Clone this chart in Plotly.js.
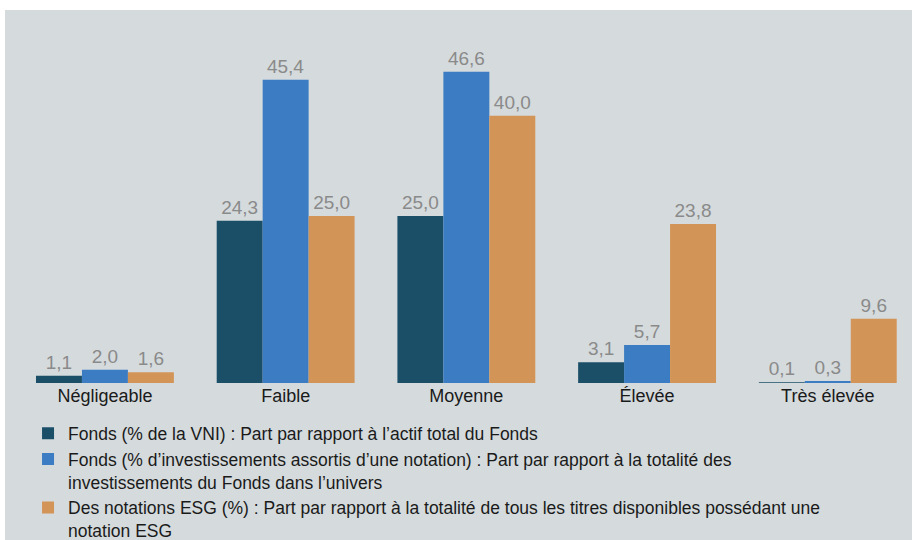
<!DOCTYPE html>
<html>
<head>
<meta charset="utf-8">
<script src="https://cdn.plot.ly/plotly-3.0.1.min.js"></script>
<style>
  html, body { margin: 0; padding: 0; background: #ffffff; overflow: hidden; }
  #chart { position: absolute; left: 5px; top: 10px; width: 907px; height: 530px; }
</style>
</head>
<body>
<div id="chart"></div>
<script>
const categories = ["Négligeable", "Faible", "Moyenne", "Élevée", "Très élevée"];
const fondsVNI = [1.1, 24.3, 25.0, 3.1, 0.1];
const fondsNotation = [2.0, 45.4, 46.6, 5.7, 0.3];
const notationsESG = [1.6, 25.0, 40.0, 23.8, 9.6];
const seriesNames = [
  "Fonds (% de la VNI) : Part par rapport à l’actif total du Fonds",
  "Fonds (% d’investissements assortis d’une notation) : Part par rapport à la totalité des<br>investissements du Fonds dans l’univers",
  "Des notations ESG (%) : Part par rapport à la totalité de tous les titres disponibles possédant une<br>notation ESG"
];
const seriesColors = ["#1b4f68", "#3b7cc2", "#d39457"];
const seriesValues = [fondsVNI, fondsNotation, notationsESG];

const FONT = "Liberation Sans, Arial, Helvetica, sans-serif";

const traces = seriesValues.map((vals, i) => ({
  type: "bar",
  x: categories,
  y: vals,
  name: seriesNames[i],
  marker: { color: seriesColors[i], line: { width: 0 } },
  texttemplate: "%{y:.1f}",
  textposition: "outside",
  constraintext: "none",
  cliponaxis: false,
  textfont: { family: FONT, size: 19, color: "#8a8a8a" },
  hoverinfo: "skip"
}));

const layout = {
  width: 907,
  height: 530,
  margin: { l: 0, r: 0, t: 0, b: 157, autoexpand: false },
  paper_bgcolor: "#d5dadd",
  plot_bgcolor: "#d5dadd",
  separators: ", ",
  barmode: "group",
  bargap: 0.237,
  bargroupgap: 0,
  font: { family: FONT, color: "#1a1a1a" },
  xaxis: {
    type: "category",
    range: [-0.553, 4.466],
    showgrid: false,
    zeroline: false,
    showline: false,
    ticks: "",
    tickfont: { family: FONT, size: 18, color: "#1a1a1a" },
    automargin: false,
    fixedrange: true
  },
  yaxis: {
    range: [0, 55.83],
    visible: false,
    fixedrange: true
  },
  showlegend: true,
  legend: {
    orientation: "v",
    x: 0.0254,
    xanchor: "left",
    y: -0.087,
    yanchor: "top",
    valign: "top",
    bgcolor: "rgba(0,0,0,0)",
    font: { family: FONT, size: 17.5, color: "#1a1a1a" },
    traceorder: "normal"
  },
  hovermode: false
};

Plotly.newPlot("chart", traces, layout, { displayModeBar: false, staticPlot: true });
</script>
</body>
</html>
